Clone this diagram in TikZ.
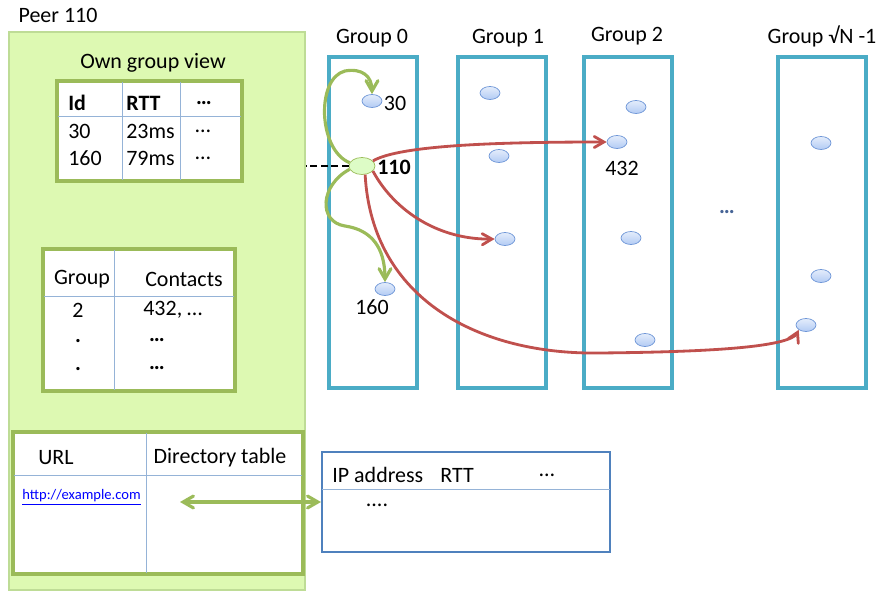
\documentclass[tikz,border=0pt]{standalone}
\usepackage{fontspec}
\setmainfont{Carlito}
\usepackage{tikz}
\usetikzlibrary{arrows,shapes,positioning,shadows}
\definecolor{pvgreen}{RGB}{221,249,178}
\definecolor{pvborder}{RGB}{190,220,150}
\definecolor{tbgreen}{RGB}{155,187,89}
\definecolor{tbblue}{RGB}{149,179,215}
\definecolor{ipblue}{RGB}{79,129,189}
\definecolor{grteal}{RGB}{75,172,198}
\definecolor{lkred}{RGB}{192,80,77}
\definecolor{peerfill}{RGB}{178,203,244}
\definecolor{peerline}{RGB}{110,150,215}
\definecolor{dotblue}{RGB}{70,100,150}
\tikzstyle{txt} = [font=\fontsize{12.5}{15}\selectfont,inner sep=0pt]
\tikzstyle{peer} = [ellipse,draw=peerline,thin,top color=peerfill!35,bottom color=peerfill,minimum width=0.4cm,minimum height=0.26cm,inner sep=0pt]
\tikzstyle{groupbox} = [draw=grteal,line width=1.8pt,minimum width=1.76cm,minimum height=6.62cm,inner sep=0pt]
\tikzstyle{tablebox} = [draw=tbgreen,fill=white,line width=1.6pt,inner sep=0pt]
\tikzstyle{redarrow} = [line width=1.6pt,->,>=angle 60,color=lkred]
\tikzstyle{greenarrow} = [line width=1.8pt,->,>=angle 60,color=tbgreen]

\begin{document}
\begin{tikzpicture}[x=0.02cm,y=-0.02cm]
\useasboundingbox (0,0) rectangle (880,594);

% Peer 110 side
\node[txt] (peerlbl) at (58,15) {Peer 110};
\node[draw=pvborder,fill=pvgreen,line width=0.8pt,minimum width=5.92cm,minimum height=11.16cm,inner sep=0pt] (peerview) at (157,311) {};

% Own group view
\node[txt] (ownlbl) at (153,63) {Own group view};
\node[tablebox,minimum width=3.66cm,minimum height=1.96cm] (tabown) at (149.5,131) {};
\draw[tbblue,thin] (58,116) -- (241,116);
\draw[tbblue,thin] (122,82) -- (122,180);
\draw[tbblue,thin] (180,82) -- (180,180);
\draw[tbgreen,line width=1.6pt] (tabown.north west) rectangle (tabown.south east);
\node[txt,anchor=west,font=\fontsize{12.5}{15}\selectfont\bfseries] (hid) at (68,103) {Id};
\node[txt,anchor=west,font=\fontsize{12.5}{15}\selectfont\bfseries] (hrtt) at (126,103) {RTT};
\node[txt,font=\fontsize{12.5}{15}\selectfont\bfseries] (hdots) at (204,103) {…};
\node[txt,anchor=west] (r1id) at (68,131) {30};
\node[txt,anchor=west] (r1rtt) at (126,131) {23ms};
\node[txt] (r1dots) at (203,131) {…};
\node[txt,anchor=west] (r2id) at (68,158) {160};
\node[txt,anchor=west] (r2rtt) at (126,158) {79ms};
\node[txt] (r2dots) at (203,158) {…};

% Contacts table
\node[tablebox,minimum width=3.8cm,minimum height=2.8cm] (tabcon) at (139,320) {};
\draw[tbblue,thin] (44,296) -- (234,296);
\draw[tbblue,thin] (114,250) -- (114,390);
\draw[tbgreen,line width=1.6pt] (tabcon.north west) rectangle (tabcon.south east);
\node[txt] (hgrp) at (82,279) {Group};
\node[txt] (hcon) at (184,279) {Contacts};
\node[txt] (c1g) at (78,310) {2};
\node[txt,anchor=west] (c1c) at (143,310) {432, …};
\node[txt,font=\fontsize{12.5}{15}\selectfont\bfseries] (c2g) at (78,341) {.};
\node[txt,font=\fontsize{12.5}{15}\selectfont\bfseries] (c2c) at (157,340) {…};
\node[txt,font=\fontsize{12.5}{15}\selectfont\bfseries] (c3g) at (78,369) {.};
\node[txt,font=\fontsize{12.5}{15}\selectfont\bfseries] (c3c) at (157,368) {…};

% Directory table
\node[tablebox,minimum width=5.76cm,minimum height=2.8cm] (tabdir) at (158,503) {};
\draw[tbblue,thin] (14,475) -- (302,475);
\draw[tbblue,thin] (146,433) -- (146,573);
\draw[tbgreen,line width=1.6pt] (tabdir.north west) rectangle (tabdir.south east);
\node[txt] (hurl) at (56,458) {URL};
\node[txt] (hdir) at (220,458) {Directory table};
\node[txt,anchor=west,font=\fontsize{8.3}{10}\selectfont,text=blue] (url) at (22,497) {\underline{http://example.com}};
\coordinate (dirref) at (180,502);

% IP table
\node[draw=ipblue,fill=white,line width=1.2pt,minimum width=5.76cm,minimum height=2cm,inner sep=0pt] (iptable) at (466,502) {};
\draw[tbblue,thin] (322,489) -- (610,489);
\node[txt,anchor=west] (hip) at (332,475) {IP address};
\node[txt,anchor=west] (hiprtt) at (440,475) {RTT};
\node[txt] (hipdots) at (547,475) {…};
\node[txt] (ipdots) at (377,505) {....};
\draw[greenarrow,<->] (dirref) -- (iptable.west);

% Groups
\node[groupbox] (g0) at (373,222.5) {};
\node[groupbox] (g1) at (502,222.5) {};
\node[groupbox] (g2) at (628,222.5) {};
\node[groupbox] (gn) at (822,222.5) {};
\node[txt] (g0lbl) at (372,38) {Group 0};
\node[txt] (g1lbl) at (508,38) {Group 1};
\node[txt] (g2lbl) at (627,36) {Group 2};
\node[txt] (gnlbl) at (822,36) {Group √N -1};
\node[txt,text=dotblue,font=\fontsize{12.5}{15}\selectfont\bfseries] (gdots) at (727,212) {…};

% Peers
\node[peer] (p30) at (372,101) {};
\node[peer] (p160) at (385,289) {};
\node[ellipse,draw=tbgreen,thin,fill=green!10!pvgreen!60!white,minimum width=0.52cm,minimum height=0.34cm,inner sep=0pt] (p110) at (362,166) {};
\node[peer] (g1a) at (490,93) {};
\node[peer] (g1b) at (499,156) {};
\node[peer] (g1c) at (505,239) {};
\node[peer] (g2a) at (636,107) {};
\node[peer] (p432) at (617,142) {};
\node[peer] (g2c) at (631,238) {};
\node[peer] (g2d) at (645,340) {};
\node[peer] (gna) at (821,143) {};
\node[peer] (gnb) at (821,276) {};
\node[peer] (gnc) at (806,325) {};

% Labels
\node[txt] (l30) at (395,103) {30};
\node[txt,font=\fontsize{12.5}{15}\selectfont\bfseries] (l110) at (394,167) {110};
\node[txt] (l160) at (372,307) {160};
\node[txt] (l432) at (622,168) {432};

% Links
\draw[dash pattern=on 4pt off 2pt,line width=1.4pt] (p110.west) -- (p110.west -| peerview.east);
\draw[greenarrow] (p110.165) .. controls (318,150) and (316,78) .. (345,71) .. controls (362,68) and (372,76) .. (p30.north);
\draw[greenarrow] (p110.195) .. controls (320,185) and (318,222) .. (345,226) .. controls (372,230) and (385,248) .. (p160.north);
\draw[redarrow] (p110.25) .. controls (400,145) and (500,142) .. (p432.west);
\draw[redarrow] (p110.-25) .. controls (395,212) and (440,240) .. (g1c.west);
\draw[redarrow] (p110.-70) .. controls (372,300) and (480,355) .. (600,353) .. controls (700,352) and (790,348) .. (gnc.south west);
\end{tikzpicture}
\end{document}
